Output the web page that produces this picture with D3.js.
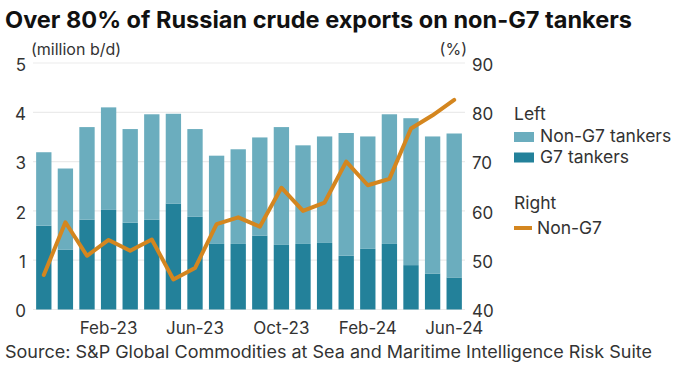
<!DOCTYPE html>
<html><head><meta charset="utf-8">
<script src="https://cdn.jsdelivr.net/npm/d3@7"></script>
<style>body{margin:0;background:#fff}svg{display:block}text{font-family:Inter,"Open Sans",sans-serif}</style>
</head><body><svg id="c" width="679" height="369"></svg>
<script>
const months = ["Nov-22","Dec-22","Jan-23","Feb-23","Mar-23","Apr-23","May-23","Jun-23","Jul-23","Aug-23","Sep-23","Oct-23","Nov-23","Dec-23","Jan-24","Feb-24","Mar-24","Apr-24","May-24","Jun-24"];
const g7Tankers = [1.70,1.21,1.82,2.02,1.76,1.82,2.15,1.88,1.33,1.33,1.50,1.31,1.33,1.35,1.09,1.23,1.33,0.90,0.73,0.65];
const nonG7Tankers = [1.49,1.65,1.88,2.08,1.90,2.14,1.82,1.78,1.79,1.92,1.99,2.39,2.00,2.16,2.49,2.28,2.63,2.98,2.78,2.92];
const nonG7Share = [47.0,57.7,50.9,54.1,51.9,54.2,46.1,48.4,57.3,58.7,56.8,64.7,60.0,61.7,70.0,65.2,66.5,76.7,79.4,82.5];
const xTickLabels = ["Feb-23","Jun-23","Oct-23","Feb-24","Jun-24"];
const leftTicks = [0,1,2,3,4,5];
const rightTicks = [40,50,60,70,80,90];

const colLight = "#6badbe", colDark = "#23819a", colLine = "#d4861f";
const svg = d3.select("#c");
const x = d3.scaleBand().domain(months).range([33,465]).paddingInner(0.29).paddingOuter(0.145);
const y = d3.scaleLinear().domain([0,5]).range([309.5,63]);
const y2 = d3.scaleLinear().domain([40,90]).range([309.5,63]);

svg.append("text").attr("x",5).attr("y",28).attr("font-size",23).attr("font-weight",700).attr("fill","#111")
  .attr("textLength",627).attr("lengthAdjust","spacingAndGlyphs")
  .text("Over 80% of Russian crude exports on non-G7 tankers");

// gridlines
svg.append("g").selectAll("line").data(leftTicks).join("line")
  .attr("x1",33).attr("x2",465).attr("y1",d=>y(d)).attr("y2",d=>y(d))
  .attr("stroke","#ebebeb").attr("stroke-width",1.2);

// left axis
const ax = d3.axisLeft(y).tickValues(leftTicks).tickFormat(d3.format("d")).tickSize(0).tickPadding(0);
const gl = svg.append("g").attr("transform","translate(26,0)").call(ax);
gl.select(".domain").remove();
gl.selectAll("text").attr("font-size",17).attr("fill","#333").attr("dy","0.42em").style("font-family","Inter");
const ax2 = d3.axisRight(y2).tickValues(rightTicks).tickFormat(d3.format("d")).tickSize(0).tickPadding(0);
const gr = svg.append("g").attr("transform","translate(472,0)").call(ax2);
gr.select(".domain").remove();
gr.selectAll("text").attr("font-size",17).attr("fill","#333").attr("dy","0.42em").style("font-family","Inter");

svg.append("text").attr("x",31).attr("y",55).attr("font-size",16).attr("fill","#333").text("(million b/d)");
svg.append("text").attr("x",467).attr("y",55).attr("text-anchor","end").attr("font-size",16).attr("fill","#333").text("(%)");

// bars
const stack = months.map((m,i)=>({m, g7:g7Tankers[i], non:nonG7Tankers[i]}));
svg.append("g").selectAll("rect").data(stack).join("rect")
  .attr("x",d=>x(d.m)).attr("width",x.bandwidth())
  .attr("y",d=>y(d.g7)).attr("height",d=>y(0)-y(d.g7)).attr("fill",colDark);
svg.append("g").selectAll("rect").data(stack).join("rect")
  .attr("x",d=>x(d.m)).attr("width",x.bandwidth())
  .attr("y",d=>y(d.g7+d.non)).attr("height",d=>y(d.g7)-y(d.g7+d.non)).attr("fill",colLight);

// line
const line = d3.line().x((d,i)=>x(months[i])+x.bandwidth()/2).y(d=>y2(d));
svg.append("path").datum(nonG7Share).attr("d",line).attr("fill","none")
  .attr("stroke",colLine).attr("stroke-width",4).attr("stroke-linejoin","round").attr("stroke-linecap","round");

// x labels
const xa = d3.axisBottom(x).tickValues(xTickLabels).tickSize(0).tickPadding(0);
const gx = svg.append("g").attr("transform","translate(0,318)").call(xa);
gx.select(".domain").remove();
gx.selectAll("text").attr("font-size",17).attr("fill","#333").attr("dy","0.95em").style("font-family","Inter");

// legend
const lg = svg.append("g");
lg.append("text").attr("x",514).attr("y",120).attr("font-size",17.5).attr("fill","#333").text("Left");
const items = [["Non-G7 tankers",colLight],["G7 tankers",colDark]];
items.forEach((it,i)=>{
  lg.append("rect").attr("x",514).attr("y",132+i*20.5).attr("width",20).attr("height",10).attr("fill",it[1]);
  lg.append("text").attr("x",540).attr("y",142+i*20.5).attr("font-size",17.5).attr("fill","#333").text(it[0]);
});
lg.append("text").attr("x",514).attr("y",209).attr("font-size",17.5).attr("fill","#333").text("Right");
lg.append("line").attr("x1",514).attr("x2",532).attr("y1",228).attr("y2",228).attr("stroke",colLine).attr("stroke-width",4);
lg.append("text").attr("x",537).attr("y",234).attr("font-size",17.5).attr("fill","#333").text("Non-G7");

svg.append("text").attr("x",5).attr("y",358).attr("font-size",17).attr("fill","#333")
  .attr("textLength",647).attr("lengthAdjust","spacingAndGlyphs")
  .text("Source: S&P Global Commodities at Sea and Maritime Intelligence Risk Suite");
</script></body></html>
